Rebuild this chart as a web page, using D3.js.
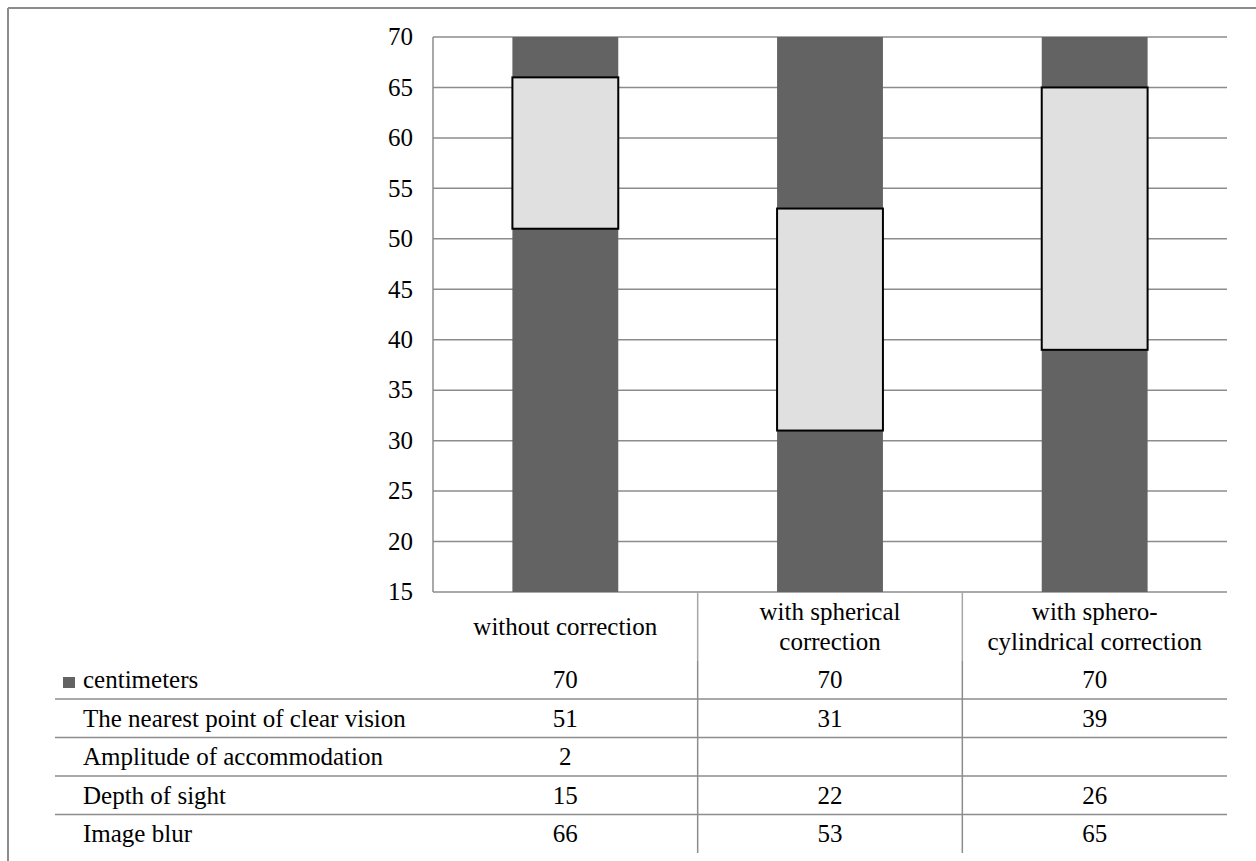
<!DOCTYPE html>
<html><head><meta charset="utf-8">
<script src="https://cdn.jsdelivr.net/npm/d3@7/dist/d3.min.js"></script>
<style>body{margin:0;background:#fff}svg{display:block}</style>
</head><body>
<svg id="chart" width="1256" height="861"></svg>
<script>
const categories = ["without correction", "with spherical correction", "with sphero-cylindrical correction"];
const categoryLines = [["without correction"], ["with spherical", "correction"], ["with sphero-", "cylindrical correction"]];
const seriesNames = ["centimeters", "The nearest point of clear vision", "Amplitude of accommodation", "Depth of sight", "Image blur"];
const centimeters = [70, 70, 70];
const nearestPoint = [51, 31, 39];
const amplitude = [2, null, null];
const depthOfSight = [15, 22, 26];
const imageBlur = [66, 53, 65];
const yTicks = [15, 20, 25, 30, 35, 40, 45, 50, 55, 60, 65, 70];
const seriesValues = [centimeters, nearestPoint, amplitude, depthOfSight, imageBlur];

(function () {
const svg = d3.select("#chart")
  .attr("font-family", "'Liberation Serif', 'Times New Roman', serif")
  .attr("fill", "#000");
const pL = 433, pR = 1227, pT = 37, pB = 592;
const fs = 25;
const gridColor = "#8c8c8c";

svg.append("line").attr("x1", 8).attr("x2", 1256).attr("y1", 8).attr("y2", 8).attr("stroke", gridColor).attr("stroke-width", 2);
svg.append("line").attr("x1", 8).attr("x2", 8).attr("y1", 8).attr("y2", 861).attr("stroke", gridColor).attr("stroke-width", 2);

const x = d3.scaleBand().domain(categories).range([pL, pR]).paddingInner(0).paddingOuter(0);
const y = d3.scaleLinear().domain([15, 70]).range([pB, pT]);
const bw = x.bandwidth() / 2.5;

svg.append("g").selectAll("line").data(yTicks).join("line")
  .attr("x1", pL).attr("x2", pR)
  .attr("y1", d => y(d)).attr("y2", d => y(d))
  .attr("stroke", gridColor).attr("stroke-width", 1.5);
svg.append("line").attr("x1", pL).attr("x2", pL).attr("y1", pT).attr("y2", pB).attr("stroke", gridColor).attr("stroke-width", 1.5);

svg.append("g").selectAll("text").data(yTicks).join("text")
  .attr("x", 413).attr("y", d => y(d)).attr("dy", "0.33em")
  .attr("text-anchor", "end").attr("font-size", fs).text(d => d);

svg.append("g").selectAll("rect").data(categories).join("rect")
  .attr("x", d => x(d) + x.bandwidth() / 2 - bw / 2)
  .attr("width", bw)
  .attr("y", (d, i) => y(centimeters[i]))
  .attr("height", (d, i) => y(15) - y(centimeters[i]))
  .attr("fill", "#636363");

svg.append("g").selectAll("rect").data(categories).join("rect")
  .attr("x", d => x(d) + x.bandwidth() / 2 - bw / 2)
  .attr("width", bw)
  .attr("y", (d, i) => y(Math.max(nearestPoint[i], imageBlur[i])))
  .attr("height", (d, i) => Math.abs(y(nearestPoint[i]) - y(imageBlur[i])))
  .attr("fill", "#e0e0e0").attr("stroke", "#000").attr("stroke-width", 2);

const rowH = 38.5;
const firstLine = 699;
const tableLeft = 55;
const tableBottom = 853;
// header part of column separators (lighter)
svg.append("g").selectAll("line").data(categories.slice(1)).join("line")
  .attr("x1", d => x(d)).attr("x2", d => x(d))
  .attr("y1", pB).attr("y2", 661)
  .attr("stroke", "#a6a6a6").attr("stroke-width", 1.5);
svg.append("g").selectAll("line").data(categories.slice(1)).join("line")
  .attr("x1", d => x(d)).attr("x2", d => x(d))
  .attr("y1", 661).attr("y2", tableBottom)
  .attr("stroke", gridColor).attr("stroke-width", 1.5);
svg.append("g").selectAll("line").data(d3.range(4)).join("line")
  .attr("x1", tableLeft).attr("x2", pR)
  .attr("y1", d => firstLine + d * rowH).attr("y2", d => firstLine + d * rowH)
  .attr("stroke", gridColor).attr("stroke-width", 1.5);

categories.forEach((c, i) => {
  const lines = categoryLines[i];
  lines.forEach((ln, j) => {
    svg.append("text").attr("x", x(c) + x.bandwidth() / 2)
      .attr("y", 635 + (j - (lines.length - 1) / 2) * 30)
      .attr("text-anchor", "middle").attr("font-size", fs).text(ln);
  });
});

seriesNames.forEach((name, r) => {
  const base = firstLine - 11 + r * rowH;
  svg.append("text").attr("x", 83).attr("y", base).attr("font-size", fs).text(name);
  seriesValues[r].forEach((v, i) => {
    if (v === null) return;
    svg.append("text").attr("x", x(categories[i]) + x.bandwidth() / 2).attr("y", base)
      .attr("text-anchor", "middle").attr("font-size", fs).text(v);
  });
});
svg.append("rect").attr("x", 63).attr("y", 677).attr("width", 12).attr("height", 11).attr("fill", "#636363");
})();
</script>
</body></html>
